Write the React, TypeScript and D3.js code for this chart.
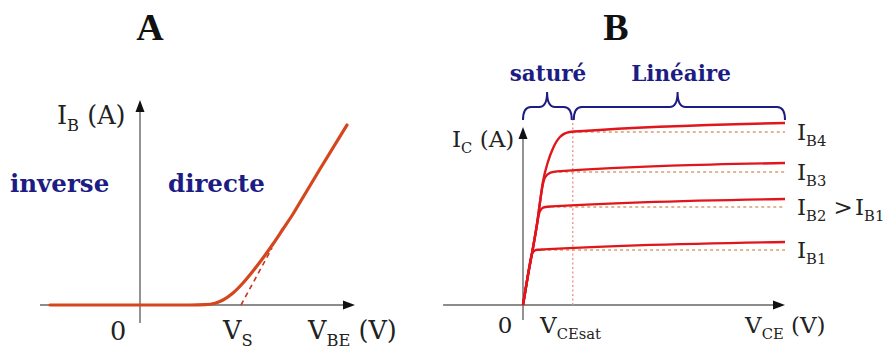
import React from "react";
import * as d3 from "d3";

const W = 885;
const H = 350;

// Panel A: input characteristic I_B = f(V_BE)
const vbe = [-0.9, 0, 0.5, 0.65, 0.75, 0.83, 0.93, 1.03, 1.13, 1.23, 1.33, 1.43, 1.53, 1.62, 1.8, 2.07];
const ib = [0, 0, 0, 0.003, 0.018, 0.05, 0.12, 0.22, 0.34, 0.47, 0.61, 0.76, 0.91, 1.06, 1.36, 1.8];
const vs = 1.02;
const tangentV = [1.01, 1.32];
const tangentI = [0, 0.57];

// Panel B: output characteristics I_C = f(V_CE) for four base currents
const ibNames = ["B1", "B2", "B3", "B4"];
const ibLevels = [2.75, 4.9, 6.65, 8.65];
const kneeV = [0.5, 0.85, 1.15, 1.9];
const curveV = [
  [0, 0.19, 0.33, 0.42, 0.55, 0.8, 10],
  [0, 0.19, 0.38, 0.53, 0.6, 0.7, 0.85, 1.1, 10],
  [0, 0.19, 0.38, 0.53, 0.65, 0.73, 0.85, 1.05, 1.3, 10],
  [0, 0.19, 0.38, 0.53, 0.65, 0.76, 0.95, 1.15, 1.41, 1.79, 2.3, 10],
];
const curveI = [
  [0, 1.5, 2.5, 2.7, 2.76, 2.78, 3.15],
  [0, 1.5, 2.85, 4.0, 4.5, 4.8, 4.9, 4.93, 5.3],
  [0, 1.5, 2.85, 4.0, 5.15, 5.85, 6.4, 6.62, 6.68, 7.1],
  [0, 1.5, 2.85, 4.0, 5.15, 6.15, 7.15, 7.85, 8.4, 8.65, 8.7, 9.1],
];
const vceSat = 1.9;
const vceMax = 10;

const xA = d3.scaleLinear().domain([-1, 2.15]).range([40, 355]);
const yA = d3.scaleLinear().domain([0, 2]).range([305, 105]);
const xB = d3.scaleLinear().domain([0, 10]).range([523, 785]);
const yB = d3.scaleLinear().domain([0, 10]).range([305, 105]);

const serif = "'DejaVu Serif', serif";
const blue = "#1c1c84";
const axisCol = "#666";

const lineA = d3
  .line<[number, number]>()
  .x((d) => xA(d[0]))
  .y((d) => yA(d[1]))
  .curve(d3.curveMonotoneX);

const lineB = d3
  .line<[number, number]>()
  .x((d) => xB(d[0]))
  .y((d) => yB(d[1]))
  .curve(d3.curveMonotoneX);

const brace = (x0: number, x1: number, xm: number, yEnd: number, yLine: number, yTip: number) => {
  const r = 8;
  return `M${x0},${yEnd} Q${x0},${yLine} ${x0 + r},${yLine} L${xm - r},${yLine} Q${xm},${yLine} ${xm},${yTip} Q${xm},${yLine} ${xm + r},${yLine} L${x1 - r},${yLine} Q${x1},${yLine} ${x1},${yEnd}`;
};

const arrowRight = (x: number, y: number) => `M${x},${y} L${x - 12},${y - 4.5} L${x - 12},${y + 4.5} Z`;
const arrowUp = (x: number, y: number) => `M${x},${y} L${x - 4.5},${y + 12} L${x + 4.5},${y + 12} Z`;

const Sub = ({ x, y, main, sub, rest, size = 23, anchor = "start" }: any) => (
  <text x={x} y={y} fontFamily={serif} fontSize={size} fill="#222" textAnchor={anchor}>
    <tspan>{main}</tspan>
    <tspan dy={size * 0.27} fontSize={size * 0.64}>{sub}</tspan>
    {rest ? <tspan dy={-size * 0.27}>{rest}</tspan> : null}
  </text>
);

export default function App() {
  const ptsA = vbe.map((v, i) => [v, ib[i]] as [number, number]);
  const tan = tangentV.map((v, i) => [v, tangentI[i]] as [number, number]);

  return (
    <svg width={W} height={H} style={{ position: "absolute", left: 0, top: 0, background: "#fff" }}>
      {/* Titles */}
      <text x={150} y={40} textAnchor="middle" fontFamily="'Liberation Serif', serif" fontWeight="bold" fontSize={38} fill="#111">A</text>
      <text x={616} y={40} textAnchor="middle" fontFamily="'Liberation Serif', serif" fontWeight="bold" fontSize={38} fill="#111">B</text>

      {/* ---------- Panel A ---------- */}
      <line x1={xA(-1)} x2={xA(2.15) - 6} y1={yA(0)} y2={yA(0)} stroke={axisCol} strokeWidth={1.4} />
      <path d={arrowRight(xA(2.15), yA(0))} fill="#111" />
      <line x1={xA(0)} x2={xA(0)} y1={323} y2={yA(2.05) + 6} stroke={axisCol} strokeWidth={1.4} />
      <path d={arrowUp(xA(0), yA(2.05))} fill="#111" />

      <path d={lineA(tan) ?? ""} fill="none" stroke="#c8341c" strokeWidth={1.6} strokeDasharray="5,4" />
      <path d={lineA(ptsA) ?? ""} fill="none" stroke="#d4461e" strokeWidth={3.2} strokeLinecap="round" />

      <Sub x={57} y={124} main="I" sub="B" rest=" (A)" size={25.5} />
      <text x={10} y={192} fontFamily={serif} fontWeight="bold" fontSize={24.5} fill={blue}>inverse</text>
      <text x={168} y={192} fontFamily={serif} fontWeight="bold" fontSize={24.5} fill={blue}>directe</text>
      <text x={118} y={340} textAnchor="middle" fontFamily={serif} fontSize={25.5} fill="#222">0</text>
      <Sub x={xA(vs) - 19} y={339} main="V" sub="S" size={25.5} />
      <Sub x={308} y={339} main="V" sub="BE" rest=" (V)" size={25.5} />

      {/* ---------- Panel B ---------- */}
      <line x1={xB(-3.05)} x2={xB(vceMax) - 6} y1={yB(0)} y2={yB(0)} stroke={axisCol} strokeWidth={1.4} />
      <path d={arrowRight(xB(vceMax), yB(0))} fill="#111" />
      <line x1={xB(0)} x2={xB(0)} y1={320} y2={yB(8.9) + 6} stroke={axisCol} strokeWidth={1.4} />
      <path d={arrowUp(xB(0), yB(8.9))} fill="#111" />

      <line x1={xB(vceSat)} x2={xB(vceSat)} y1={yB(0)} y2={yB(9.3)} stroke="#f08c8c" strokeWidth={1.3} strokeDasharray="2,2.5" />

      {ibLevels.map((lv, k) => (
        <line key={"d" + k} x1={xB(kneeV[k])} x2={xB(vceMax)} y1={yB(lv)} y2={yB(lv)} stroke="#d8a070" strokeWidth={1.3} strokeDasharray="3,3" />
      ))}
      {curveV.map((vs2, k) => (
        <path
          key={"c" + k}
          d={lineB(vs2.map((v, i) => [v, curveI[k][i]] as [number, number])) ?? ""}
          fill="none"
          stroke="#e0161c"
          strokeWidth={2.4}
        />
      ))}

      {ibLevels.map((lv, k) => (
        <Sub key={"l" + k} x={797} y={yB(lv) + 8} main="I" sub={ibNames[k]} rest={k === 1 ? " > " : undefined} />
      ))}
      <Sub x={855} y={yB(ibLevels[1]) + 8} main="I" sub="B1" />

      <Sub x={452} y={147} main="I" sub="C" rest=" (A)" />
      <text x={505} y={333} textAnchor="middle" fontFamily={serif} fontSize={23} fill="#222">0</text>
      <Sub x={540} y={333} main="V" sub="CEsat" />
      <Sub x={745} y={333} main="V" sub="CE" rest=" (V)" />

      {/* Regions */}
      <path d={brace(xB(0), xB(vceSat) - 1, xB(0.92), 120, 107, 92)} fill="none" stroke={blue} strokeWidth={2} />
      <path d={brace(xB(vceSat) + 1, xB(vceMax), xB(5.9), 120, 107, 92)} fill="none" stroke={blue} strokeWidth={2} />
      <text x={548} y={81} textAnchor="middle" fontFamily={serif} fontWeight="bold" fontSize={21.5} fill={blue}>saturé</text>
      <text x={681} y={81} textAnchor="middle" fontFamily={serif} fontWeight="bold" fontSize={21.5} fill={blue}>Linéaire</text>
    </svg>
  );
}
